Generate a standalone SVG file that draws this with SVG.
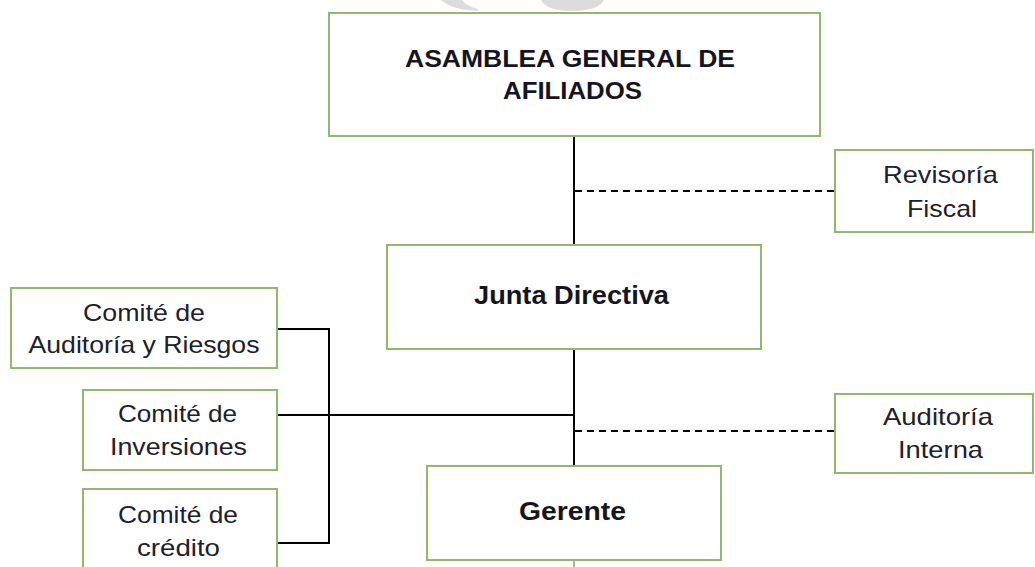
<svg xmlns="http://www.w3.org/2000/svg" width="1035" height="567" viewBox="0 0 1035 567">
<style>
.box{fill:#ffffff;stroke:#93b86a;stroke-width:2}
.b{font-family:"Liberation Sans",Arial,sans-serif;font-weight:bold;fill:#15151f;text-anchor:middle}
.r{font-family:"Liberation Sans",Arial,sans-serif;font-size:24px;fill:#20202c;text-anchor:middle}
.ln{fill:none;stroke:#000;stroke-width:2}
.dl{fill:none;stroke:#000;stroke-width:2;stroke-dasharray:7 5}
.wm{fill:#dcdcdc}
</style>
<rect width="1035" height="567" fill="#ffffff"/>
<g id="watermark">
<path class="wm" d="M441,0 L462,0 Q466,6 478,9 L478,11 Q452,10 441,0 Z"/>
<path class="wm" d="M541,0 L604,0 Q598,11 572,11 Q547,11 541,0 Z"/>
</g>
<g id="connectors">
<line class="ln" x1="574" y1="136" x2="574" y2="245"/>
<line class="dl" x1="575" y1="191" x2="835" y2="191"/>
<line class="ln" x1="574" y1="349" x2="574" y2="466"/>
<polyline class="ln" points="277,329 329,329 329,543 277,543"/>
<line class="ln" x1="277" y1="415" x2="574" y2="415"/>
<line class="dl" x1="575" y1="431" x2="835" y2="431"/>
<line x1="574" y1="560" x2="574" y2="567" stroke="#999" stroke-width="1.5"/>
</g>
<g id="asamblea">
<rect class="box" x="329" y="13" width="491" height="123"/>
<text class="b" font-size="24" x="570" y="67" textLength="330" lengthAdjust="spacingAndGlyphs">ASAMBLEA GENERAL DE</text>
<text class="b" font-size="24" x="572.5" y="99" textLength="139" lengthAdjust="spacingAndGlyphs">AFILIADOS</text>
</g>
<g id="revisoria">
<rect class="box" x="835" y="150" width="198" height="82"/>
<text class="r" x="940.5" y="183" textLength="115" lengthAdjust="spacingAndGlyphs">Revisoría</text>
<text class="r" x="942" y="217" textLength="70" lengthAdjust="spacingAndGlyphs">Fiscal</text>
</g>
<g id="junta">
<rect class="box" x="387" y="245" width="374" height="104"/>
<text class="b" font-size="25" x="571.5" y="304" textLength="195" lengthAdjust="spacingAndGlyphs">Junta Directiva</text>
</g>
<g id="comite-auditoria">
<rect class="box" x="11" y="288" width="266" height="80"/>
<text class="r" x="144" y="321" textLength="122" lengthAdjust="spacingAndGlyphs">Comité de</text>
<text class="r" x="144" y="353" textLength="231" lengthAdjust="spacingAndGlyphs">Auditoría y Riesgos</text>
</g>
<g id="comite-inversiones">
<rect class="box" x="83" y="390" width="194" height="80"/>
<text class="r" x="177.5" y="422" textLength="119" lengthAdjust="spacingAndGlyphs">Comité de</text>
<text class="r" x="178.5" y="455" textLength="137" lengthAdjust="spacingAndGlyphs">Inversiones</text>
</g>
<g id="comite-credito">
<rect class="box" x="83" y="489" width="194" height="90"/>
<text class="r" x="178" y="523" textLength="120" lengthAdjust="spacingAndGlyphs">Comité de</text>
<text class="r" x="178.5" y="556" textLength="83" lengthAdjust="spacingAndGlyphs">crédito</text>
</g>
<g id="auditoria-interna">
<rect class="box" x="835" y="394" width="198" height="79"/>
<text class="r" x="938" y="425" textLength="110" lengthAdjust="spacingAndGlyphs">Auditoría</text>
<text class="r" x="940.5" y="458" textLength="85" lengthAdjust="spacingAndGlyphs">Interna</text>
</g>
<g id="gerente">
<rect class="box" x="427" y="466" width="294" height="94"/>
<text class="b" font-size="25" x="572.5" y="520" textLength="107" lengthAdjust="spacingAndGlyphs">Gerente</text>
</g>
</svg>
